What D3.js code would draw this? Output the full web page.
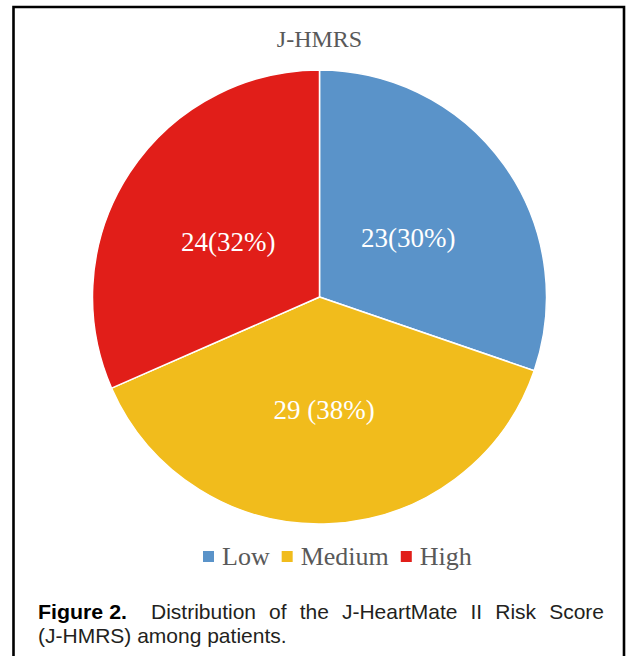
<!DOCTYPE html>
<html>
<head>
<meta charset="utf-8">
<script src="https://cdn.jsdelivr.net/npm/d3@7"></script>
<style>
  html, body { margin: 0; padding: 0; background: #ffffff; }
  svg { display: block; }
</style>
</head>
<body>
<svg id="chart" width="626" height="656"></svg>
<script>
// ---- data ----
const categories = ["Low", "Medium", "High"];
const counts = [23, 29, 24];
const sliceLabels = ["23(30%)", "29 (38%)", "24(32%)"];
const colors = ["#5A93C9", "#F1BC1C", "#E11E19"];
const title = "J-HMRS";
const captionBold = "Figure 2.";
const captionLine1 = "Distribution of the J-HeartMate II Risk Score";
const captionLine2 = "(J-HMRS) among patients.";

// ---- layout ----
const W = 626, H = 656;
const cx = 319.5, cy = 297, R = 227;
const svg = d3.select("#chart");

// frame
svg.append("path")
  .attr("d", `M13.5,${H} L13.5,7 L624,7 L624,${H}`)
  .attr("stroke", "#000").attr("fill", "none").attr("stroke-width", 2.6);

// title
svg.append("text")
  .attr("x", cx).attr("y", 47)
  .attr("text-anchor", "middle")
  .attr("font-family", "'Liberation Serif', 'Times New Roman', serif")
  .attr("font-size", 24)
  .attr("fill", "#595959")
  .text(title);

// pie
const data = categories.map((c, i) => ({ cat: c, value: counts[i], label: sliceLabels[i], color: colors[i] }));
const pie = d3.pie().sort(null).value(d => d.value);
const arcs = pie(data);
const arc = d3.arc().innerRadius(0).outerRadius(R);
const labelArc = d3.arc().innerRadius(R * 0.48).outerRadius(R * 0.48);

const g = svg.append("g").attr("transform", `translate(${cx},${cy})`);
g.selectAll("path.slice").data(arcs).join("path")
  .attr("class", "slice")
  .attr("d", arc)
  .attr("fill", d => d.data.color)
  .attr("stroke", "#ffffff")
  .attr("stroke-width", 1.5)
  .attr("stroke-linejoin", "round");

g.selectAll("text.lbl").data(arcs).join("text")
  .attr("class", "lbl")
  .attr("transform", d => { const [x, y] = labelArc.centroid(d); return `translate(${x},${y + 4})`; })
  .attr("text-anchor", "middle")
  .attr("dy", "0.35em")
  .attr("font-family", "'Liberation Serif', 'Times New Roman', serif")
  .attr("font-size", 27)
  .attr("fill", "#ffffff")
  .text(d => d.data.label);

// legend
const legend = svg.append("g").attr("transform", "translate(203,565)");
let lx = 0;
data.forEach(d => {
  legend.append("rect")
    .attr("x", lx).attr("y", -14).attr("width", 11).attr("height", 11)
    .attr("fill", d.color);
  const t = legend.append("text")
    .attr("x", lx + 19).attr("y", 0)
    .attr("font-family", "'Liberation Serif', 'Times New Roman', serif")
    .attr("font-size", 26)
    .attr("fill", "#595959")
    .text(d.cat);
  lx += 19 + t.node().getComputedTextLength() + 12;
});

// caption
const capFont = "'Liberation Sans', Arial, Helvetica, sans-serif";
const capColor = "#231F20";
const y1 = 619, y2 = 643, left = 38, right = 604;
svg.append("text")
  .attr("x", left).attr("y", y1)
  .attr("font-family", "'Liberation Sans Narrow', " + capFont)
  .attr("font-weight", 900)
  .attr("font-size", 21)
  .attr("textLength", 89)
  .attr("lengthAdjust", "spacingAndGlyphs")
  .attr("fill", "#000")
  .text(captionBold);

// justified words for line 1
const words = captionLine1.split(" ");
const startX = 151;
const wNodes = words.map(w => svg.append("text")
  .attr("y", y1)
  .attr("font-family", capFont)
  .attr("font-size", 21)
  .attr("fill", capColor)
  .text(w));
const widths = wNodes.map(n => n.node().getComputedTextLength());
const totalW = d3.sum(widths);
const gap = (right - startX - totalW) / (words.length - 1);
let wx = startX;
wNodes.forEach((n, i) => { n.attr("x", wx); wx += widths[i] + gap; });

svg.append("text")
  .attr("x", left).attr("y", y2)
  .attr("font-family", capFont)
  .attr("font-size", 21)
  .attr("fill", capColor)
  .text(captionLine2);
</script>
</body>
</html>
